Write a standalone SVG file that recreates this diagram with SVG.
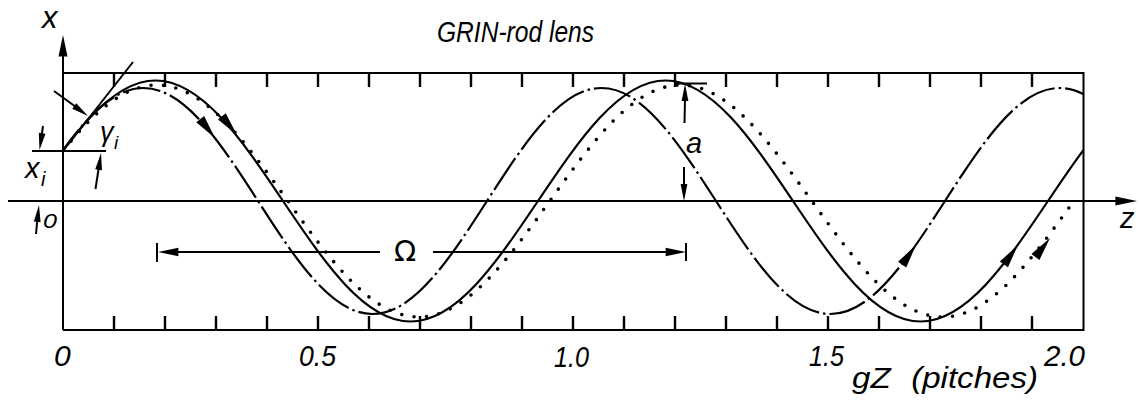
<svg xmlns="http://www.w3.org/2000/svg" xmlns:xlink="http://www.w3.org/1999/xlink" width="1140" height="403" viewBox="0 0 1140 403">
<style>
.ln{stroke:#000;stroke-width:2;fill:none}
.tk{stroke:#000;stroke-width:2.4;fill:none}
.sol{stroke:#000;stroke-width:2.2;fill:none}
.dd{stroke:#000;stroke-width:2.2;fill:none;stroke-dasharray:38 4 2.5 4}
.dot{stroke:#000;stroke-width:3.6;fill:none;stroke-dasharray:0 12.5;stroke-linecap:round}
.t{font-family:"Liberation Sans",Arial,sans-serif;font-style:italic;fill:#000}
.u{font-family:"DejaVu Sans","Liberation Sans",sans-serif;fill:#000}
</style>
<defs>
<path id="ah" d="M0 0 L-24 -5 L-24 5 Z" fill="#000"/>
<path id="sh" d="M0 0 L-17 -3.4 L-17 3.4 Z" fill="#000"/>
<clipPath id="cp"><rect x="63" y="60" width="1020.5" height="280"/></clipPath>
</defs>
<rect width="1140" height="403" fill="#fff"/>

<g id="frame">
<path class="ln" d="M63 73 H1083.5 V330 H63"/>
<path class="ln" d="M63 330 V50"/>
<use xlink:href="#ah" transform="translate(63,35) rotate(-90) scale(0.9)"/>
<path class="ln" d="M8 201 H1120"/>
<use xlink:href="#ah" transform="translate(1137,201) scale(0.9)"/>
</g>

<g id="ticks">
<path class="tk" d="M114 73v14M165 73v14M216 73v14M267 73v14M318 73v14M369 73v14M420 73v14M471 73v14M522 73v14M573 73v14M624 73v14M675 73v14M726 73v14M777 73v14M828 73v14M879 73v14M930 73v14M981 73v14M1032 73v14"/>
<path class="tk" d="M114 330v-14M165 330v-14M216 330v-14M267 330v-14M318 330v-14M369 330v-14M420 330v-14M471 330v-14M522 330v-14M573 330v-14M624 330v-14M675 330v-14M726 330v-14M777 330v-14M828 330v-14M879 330v-14M930 330v-14M981 330v-14M1032 330v-14"/>
</g>

<g id="connectors" clip-path="url(#cp)">
<path id="solid" class="sol" d="M28 201 C69.58 139.27 109.36 80.5 155.5 80.5 C201.64 80.5 241.42 139.27 283 201 C324.58 262.73 364.36 321.5 410.5 321.5 C456.64 321.5 496.42 262.73 538 201 C579.58 139.27 619.36 80.5 665.5 80.5 C711.64 80.5 751.42 139.27 793 201 C834.58 262.73 874.36 321.5 920.5 321.5 C966.64 321.5 1006.42 262.73 1048 201 C1089.58 139.27 1129.36 80.5 1175.5 80.5"/>
<path id="dashdot" class="dd" d="M29 201 C66.34 143.11 102.06 88 143.5 88 C184.94 88 220.66 143.11 258 201 C295.34 258.89 331.06 314 372.5 314 C413.94 314 449.66 258.89 487 201 C524.34 143.11 560.06 88 601.5 88 C642.94 88 678.66 143.11 716 201 C753.34 258.89 789.06 314 830.5 314 C871.94 314 907.66 258.89 945 201 C982.34 143.11 1018.06 88 1059.5 88 C1100.94 88 1136.66 143.11 1174 201"/>
<path id="dotted" class="dot" d="M25.8 201 C68.52 141.57 109.39 85 156.8 85 C204.21 85 245.08 141.57 287.8 201 C330.52 260.43 371.39 317 418.8 317 C466.21 317 507.08 260.43 549.8 201 C592.52 141.57 633.39 85 680.8 85 C728.21 85 769.08 141.57 811.8 201 C854.52 260.43 895.39 317 942.8 317 C990.21 317 1031.08 260.43 1073.8 201"/>
</g>

<g id="curve-arrows">
<use xlink:href="#ah" transform="translate(237,135) rotate(50.9)"/>
<use xlink:href="#ah" transform="translate(215,138) rotate(51.9)"/>
<use xlink:href="#ah" transform="translate(916,245) rotate(-54.8)"/>
<use xlink:href="#ah" transform="translate(1018,245) rotate(-54)"/>
<use xlink:href="#ah" transform="translate(1050,238) rotate(-52.6)"/>
</g>

<g id="initial-ray">
<path class="ln" d="M63 151 L133 62"/>
<path class="ln" d="M54 91 L78 108.5"/>
<use xlink:href="#sh" transform="translate(88,116) rotate(36)"/>
<text class="t" x="100" y="141" font-size="27">γ</text>
<text class="t" x="114" y="149" font-size="19">i</text>
</g>

<g id="xi-dim">
<path class="ln" d="M32 151 H106"/>
<path class="ln" d="M43 126 L41 140"/>
<use xlink:href="#sh" transform="translate(39.5,150) rotate(99)"/>
<path class="ln" d="M95.5 189 L99 166"/>
<use xlink:href="#sh" transform="translate(101,153) rotate(-81.9)"/>
<text class="t" x="25" y="178" font-size="29">x</text>
<text class="t" x="41" y="186" font-size="20">i</text>
<path class="ln" d="M36 234 L37.5 218"/>
<use xlink:href="#sh" transform="translate(39,205) rotate(-83.9)"/>
<text class="t" x="43" y="228" font-size="20" textLength="14" lengthAdjust="spacingAndGlyphs">0</text>
</g>

<g id="a-dim">
<path class="ln" d="M675 83.5 H707"/>
<path class="ln" d="M684.5 123 L685 98"/>
<use xlink:href="#sh" transform="translate(685,84) rotate(-90)"/>
<path class="ln" d="M684 167 L684 188"/>
<use xlink:href="#sh" transform="translate(684,201) rotate(90)"/>
<text class="t" x="686" y="153" font-size="29">a</text>
</g>

<g id="omega-dim">
<path class="ln" d="M157 243 V262"/>
<path class="ln" d="M170 252 H380"/>
<use xlink:href="#ah" transform="translate(158,252) rotate(180) scale(0.85)"/>
<path class="ln" d="M433 252 H675"/>
<use xlink:href="#ah" transform="translate(686,252) scale(0.85)"/>
<path class="ln" d="M686 243 V261"/>
<text class="u" x="405" y="261" font-size="29" text-anchor="middle">Ω</text>
</g>

<g id="labels">
<text class="t" x="42" y="28" font-size="31">x</text>
<text class="t" x="1120" y="228" font-size="29">z</text>
<text class="t" x="437" y="42" font-size="30" textLength="157" lengthAdjust="spacingAndGlyphs">GRIN-rod lens</text>
<text class="t" x="54" y="366" font-size="30">0</text>
<text class="t" x="299" y="366" font-size="30" textLength="37" lengthAdjust="spacingAndGlyphs">0.5</text>
<text class="t" x="554" y="367" font-size="30" textLength="35" lengthAdjust="spacingAndGlyphs">1.0</text>
<text class="t" x="809" y="366" font-size="30" textLength="35" lengthAdjust="spacingAndGlyphs">1.5</text>
<text class="t" x="1044" y="366" font-size="30" textLength="41" lengthAdjust="spacingAndGlyphs">2.0</text>
<text class="t" x="852" y="388" font-size="29" textLength="186" lengthAdjust="spacingAndGlyphs">gZ<tspan dx="10"> (pitches)</tspan></text>
</g>
</svg>
